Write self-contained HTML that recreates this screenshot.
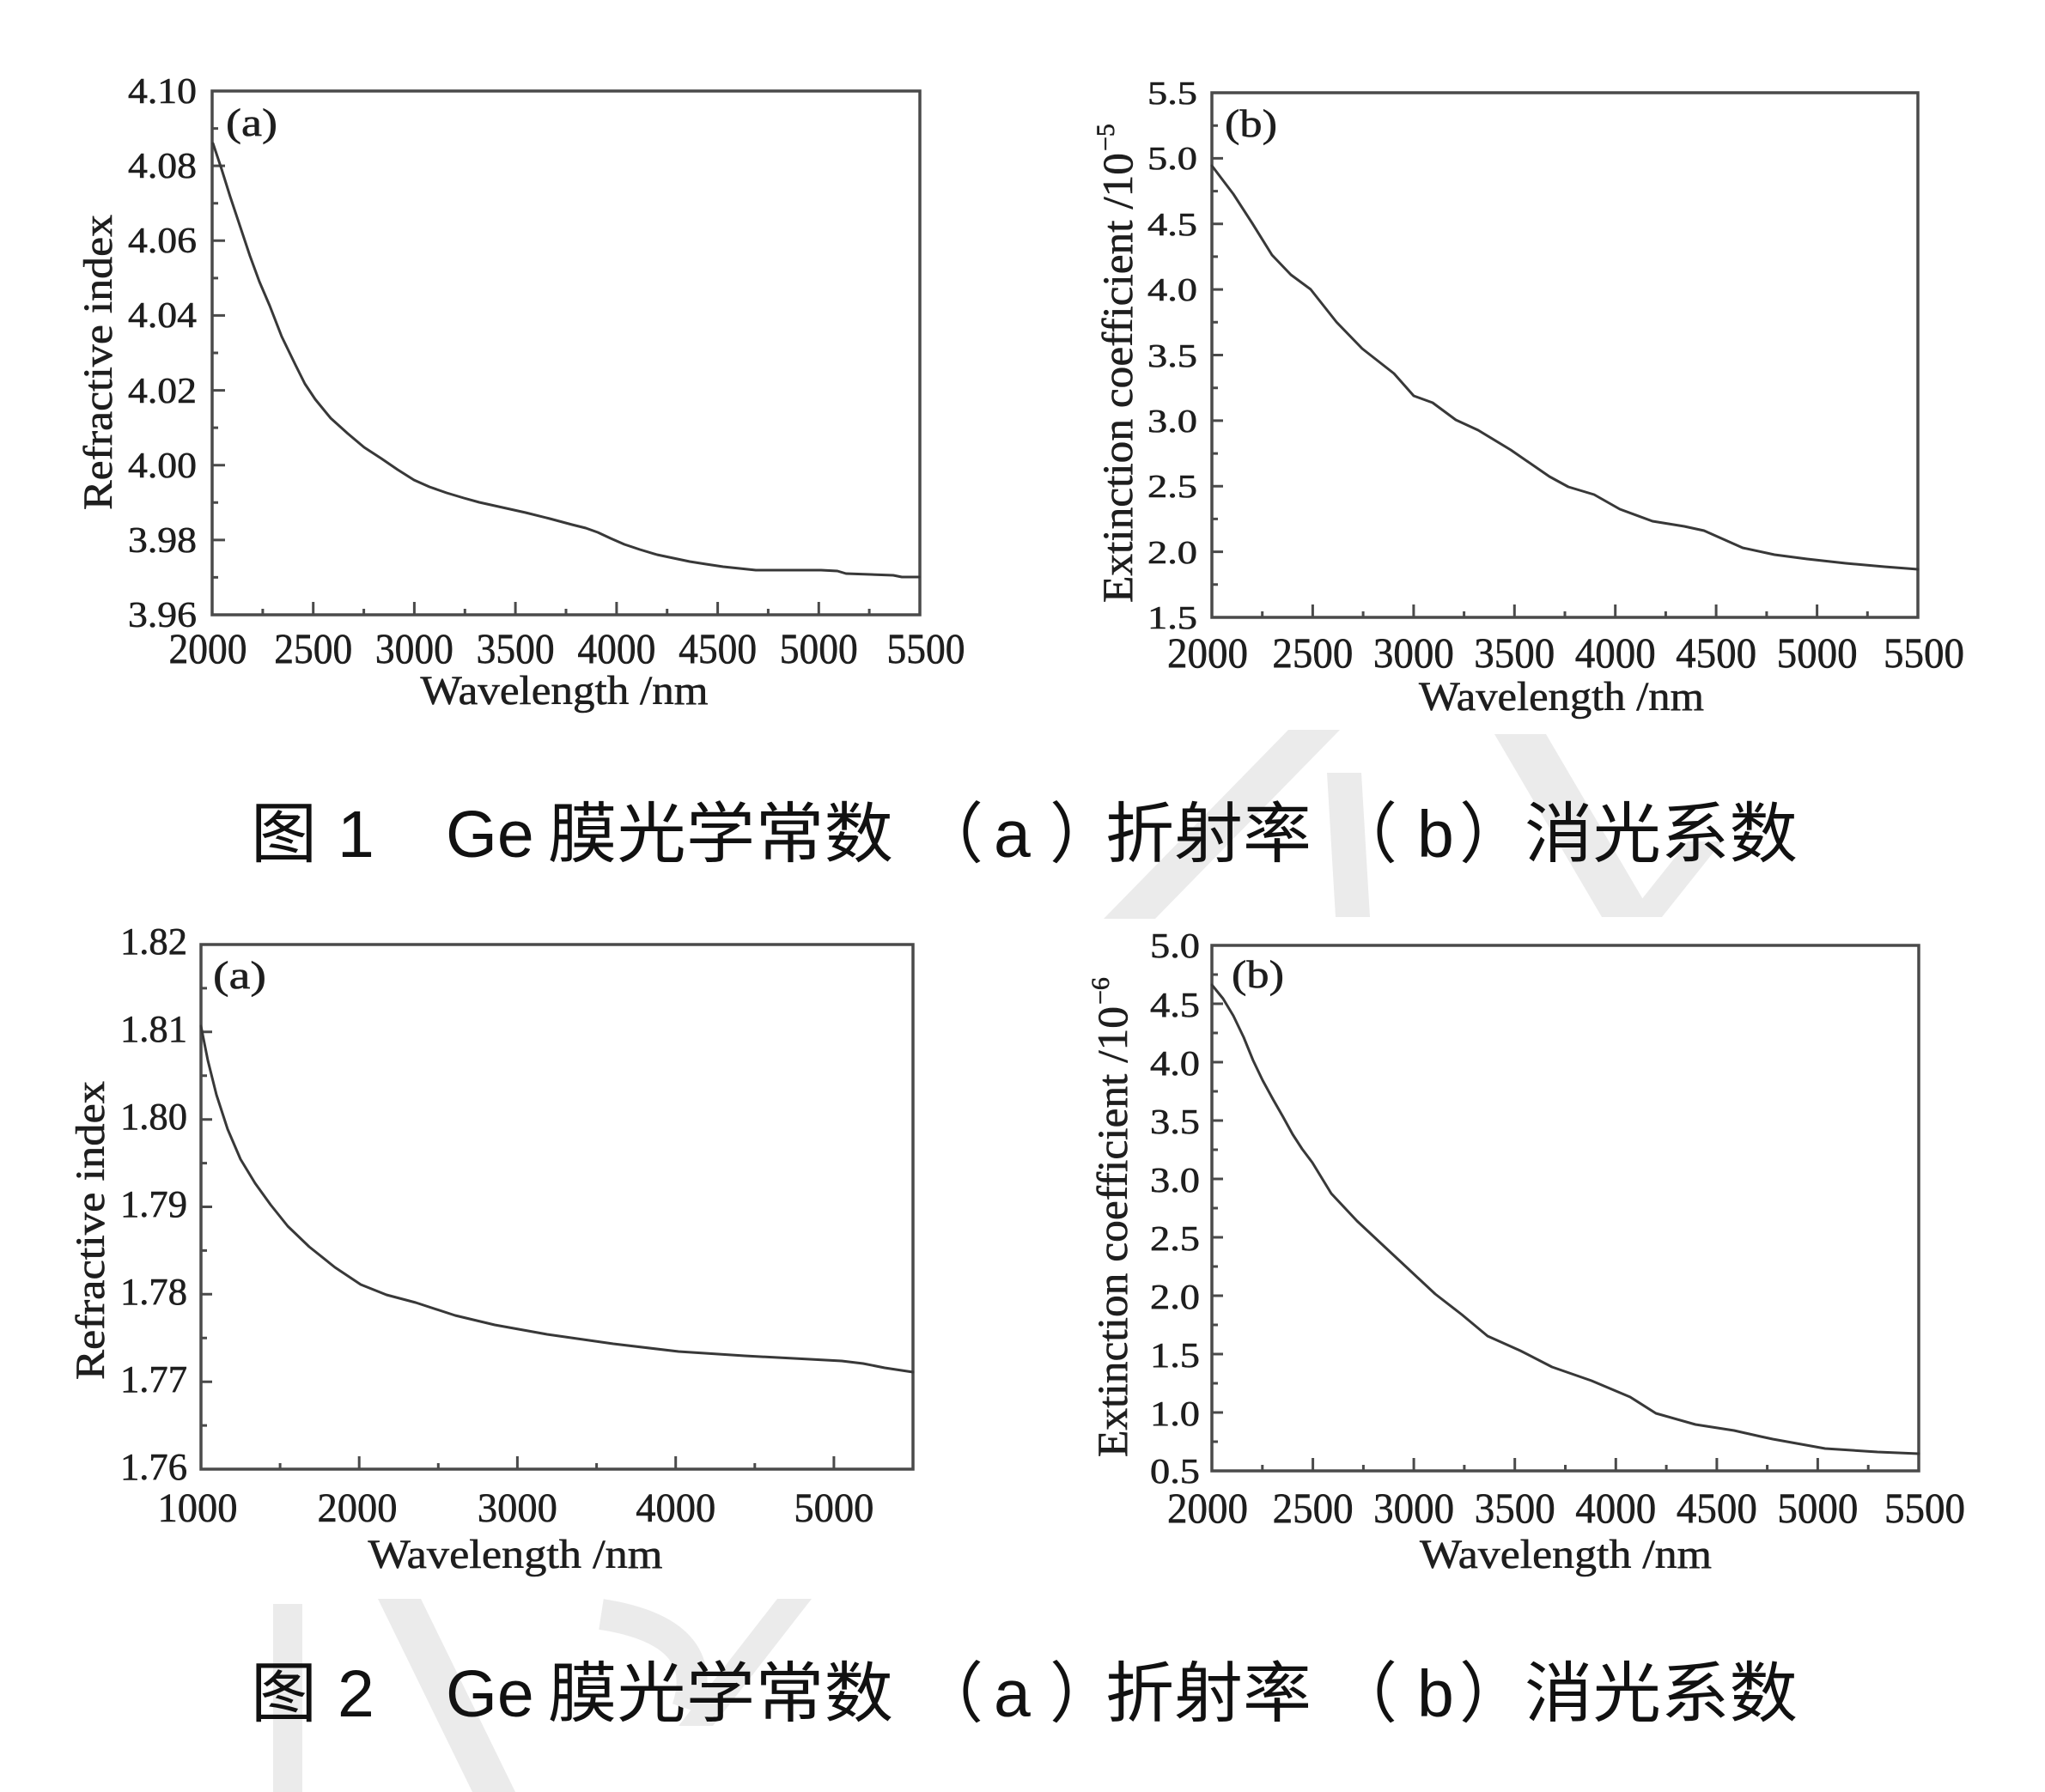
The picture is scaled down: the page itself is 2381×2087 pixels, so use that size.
<!DOCTYPE html>
<html><head><meta charset="utf-8"><style>
html,body{margin:0;padding:0;background:#fff;}
svg{display:block;}
.s{font-family:"Liberation Serif",serif;fill:#1e1e1e;stroke:#1e1e1e;stroke-width:0.6;}
.c{font-family:"Liberation Sans","Noto Sans CJK SC",sans-serif;fill:#111;}
.fr{fill:none;stroke:#4a4a4a;stroke-width:3.5;}
.tk{fill:none;stroke:#4a4a4a;stroke-width:3;}
.cv{fill:none;stroke:#383838;stroke-width:3;stroke-linejoin:round;stroke-linecap:round;}
.wm{fill:#ebebeb;}
</style></head><body>
<svg width="2381" height="2087" viewBox="0 0 2381 2087" xmlns="http://www.w3.org/2000/svg">
<rect width="2381" height="2087" fill="#fff"/>
<!-- watermark -->
<polygon class="wm" points="1500,850 1560,850 1345,1070 1285,1070"/>
<polygon class="wm" points="1545,900 1585,900 1595,1068 1555,1068"/>
<polygon class="wm" points="1740,855 1800,855 1925,1068 1865,1068"/>
<polygon class="wm" points="1965,980 2005,980 1935,1068 1895,1068"/>
<polygon class="wm" points="318,1868 352,1868 352,2087 318,2087"/>
<polygon class="wm" points="440,1862 490,1862 600,2087 550,2087"/>
<path d="M700,1880 Q830,1900 800,1990" fill="none" stroke="#ebebeb" stroke-width="36"/>
<polygon class="wm" points="905,1862 945,1862 830,2010 790,2010"/>

<!-- ===== Fig 1a ===== -->
<rect class="fr" x="247" y="106" width="824" height="610"/>
<path class="tk" d="M364.7,716v-15M482.4,716v-15M600.1,716v-15M717.9,716v-15M835.6,716v-15M953.3,716v-15
M305.9,716v-7M423.6,716v-7M541.3,716v-7M659,716v-7M776.7,716v-7M894.4,716v-7M1012.1,716v-7
M247,193.1h15M247,280.3h15M247,367.4h15M247,454.6h15M247,541.7h15M247,628.9h15
M247,149.6h7M247,236.7h7M247,323.9h7M247,411h7M247,498.1h7M247,585.3h7M247,672.4h7"/>
<polyline class="cv" points="248,167 258,197 268,229 280,265 291,298 302,328 314,356 328,392 344,425 355,447 367,465 385,487 405,505 424,521 444,534 463,547 482,559 500,567 520,574 540,580 558,585 585,591 612,597 640,604 666,611 682,615 696,620 711,627 727,634 745,640 765,646 784,650 803,654 822,657 842,660 861,662 880,664 956,664 975,665 985,668 1040,670 1050,672 1070,672"/>
<g class="s" font-size="42" text-anchor="end">
<text x="229" y="120" textLength="80" lengthAdjust="spacingAndGlyphs">4.10</text>
<text x="229" y="207" textLength="80" lengthAdjust="spacingAndGlyphs">4.08</text>
<text x="229" y="294" textLength="80" lengthAdjust="spacingAndGlyphs">4.06</text>
<text x="229" y="381" textLength="80" lengthAdjust="spacingAndGlyphs">4.04</text>
<text x="229" y="469" textLength="80" lengthAdjust="spacingAndGlyphs">4.02</text>
<text x="229" y="556" textLength="80" lengthAdjust="spacingAndGlyphs">4.00</text>
<text x="229" y="643" textLength="80" lengthAdjust="spacingAndGlyphs">3.98</text>
<text x="229" y="730" textLength="80" lengthAdjust="spacingAndGlyphs">3.96</text>
</g>
<g class="s" font-size="50" text-anchor="middle">
<text x="242" y="772" textLength="91" lengthAdjust="spacingAndGlyphs">2000</text>
<text x="364.7" y="772" textLength="91" lengthAdjust="spacingAndGlyphs">2500</text>
<text x="482.4" y="772" textLength="91" lengthAdjust="spacingAndGlyphs">3000</text>
<text x="600.1" y="772" textLength="91" lengthAdjust="spacingAndGlyphs">3500</text>
<text x="717.9" y="772" textLength="91" lengthAdjust="spacingAndGlyphs">4000</text>
<text x="835.6" y="772" textLength="91" lengthAdjust="spacingAndGlyphs">4500</text>
<text x="953.3" y="772" textLength="91" lengthAdjust="spacingAndGlyphs">5000</text>
<text x="1078" y="772" textLength="91" lengthAdjust="spacingAndGlyphs">5500</text>
</g>
<text class="s" x="657" y="820" font-size="48" text-anchor="middle" textLength="335" lengthAdjust="spacingAndGlyphs">Wavelength /nm</text>
<text class="s" font-size="48" text-anchor="middle" transform="translate(130,422) rotate(-90)" textLength="344" lengthAdjust="spacingAndGlyphs">Refractive index</text>
<text class="s" x="263" y="158" font-size="46" textLength="60" lengthAdjust="spacingAndGlyphs">(a)</text>

<!-- ===== Fig 1b ===== -->
<rect class="fr" x="1411" y="108" width="822" height="611"/>
<path class="tk" d="M1528.4,719v-15M1645.9,719v-15M1763.3,719v-15M1880.7,719v-15M1998.1,719v-15M2115.6,719v-15
M1469.7,719v-7M1587.1,719v-7M1704.6,719v-7M1822,719v-7M1939.4,719v-7M2056.9,719v-7M2174.3,719v-7
M1411,184.4h13M1411,260.8h13M1411,337.1h13M1411,413.5h13M1411,489.9h13M1411,566.3h13M1411,642.6h13
M1411,146.2h7M1411,222.6h7M1411,298.9h7M1411,375.3h7M1411,451.7h7M1411,528.1h7M1411,604.4h7M1411,680.8h7"/>
<polyline class="cv" points="1411,193 1436,226 1458,260 1481,297 1503,320 1526,337 1556,375 1586,406 1623,435 1646,461 1668,469 1695,489 1721,501 1759,524 1804,555 1826,567 1856,576 1886,593 1924,607 1961,613 1984,618 2029,638 2066,646 2104,651 2149,656 2194,660 2233,663"/>
<g class="s" font-size="38" text-anchor="end">
<text x="1394" y="121" textLength="58" lengthAdjust="spacingAndGlyphs">5.5</text>
<text x="1394" y="197" textLength="58" lengthAdjust="spacingAndGlyphs">5.0</text>
<text x="1394" y="274" textLength="58" lengthAdjust="spacingAndGlyphs">4.5</text>
<text x="1394" y="350" textLength="58" lengthAdjust="spacingAndGlyphs">4.0</text>
<text x="1394" y="427" textLength="58" lengthAdjust="spacingAndGlyphs">3.5</text>
<text x="1394" y="503" textLength="58" lengthAdjust="spacingAndGlyphs">3.0</text>
<text x="1394" y="579" textLength="58" lengthAdjust="spacingAndGlyphs">2.5</text>
<text x="1394" y="656" textLength="58" lengthAdjust="spacingAndGlyphs">2.0</text>
<text x="1394" y="732" textLength="58" lengthAdjust="spacingAndGlyphs">1.5</text>
</g>
<g class="s" font-size="50" text-anchor="middle">
<text x="1406" y="777" textLength="94" lengthAdjust="spacingAndGlyphs">2000</text>
<text x="1528.4" y="777" textLength="94" lengthAdjust="spacingAndGlyphs">2500</text>
<text x="1645.9" y="777" textLength="94" lengthAdjust="spacingAndGlyphs">3000</text>
<text x="1763.3" y="777" textLength="94" lengthAdjust="spacingAndGlyphs">3500</text>
<text x="1880.7" y="777" textLength="94" lengthAdjust="spacingAndGlyphs">4000</text>
<text x="1998.1" y="777" textLength="94" lengthAdjust="spacingAndGlyphs">4500</text>
<text x="2115.6" y="777" textLength="94" lengthAdjust="spacingAndGlyphs">5000</text>
<text x="2240" y="777" textLength="94" lengthAdjust="spacingAndGlyphs">5500</text>
</g>
<text class="s" x="1818" y="827" font-size="48" text-anchor="middle" textLength="332" lengthAdjust="spacingAndGlyphs">Wavelength /nm</text>
<text class="s" font-size="50" transform="translate(1318,702) rotate(-90)" textLength="524" lengthAdjust="spacingAndGlyphs">Extinction coefficient /10</text>
<text class="s" font-size="30" transform="translate(1297,176) rotate(-90)">−5</text>
<text class="s" x="1426" y="159" font-size="46" textLength="61" lengthAdjust="spacingAndGlyphs">(b)</text>

<!-- caption 1 -->
<g class="c" font-size="77">
<text x="292" y="998">图</text>
<text x="393" y="998">1</text>
<text x="519" y="998">Ge</text>
<text x="638" y="998" textLength="402" lengthAdjust="spacingAndGlyphs">膜光学常数</text>
<text x="1068" y="998">（</text>
<text x="1157" y="998">a</text>
<text x="1222" y="998">）</text>
<text x="1287" y="998" textLength="240" lengthAdjust="spacingAndGlyphs">折射率</text>
<text x="1550" y="998">（</text>
<text x="1650" y="998">b</text>
<text x="1699" y="998">）</text>
<text x="1775" y="998" textLength="318" lengthAdjust="spacingAndGlyphs">消光系数</text>
</g>

<!-- ===== Fig 2a ===== -->
<rect class="fr" x="234" y="1100" width="829" height="611"/>
<path class="tk" d="M418.2,1711v-15M602.4,1711v-15M786.7,1711v-15M970.9,1711v-15
M326.1,1711v-7M510.3,1711v-7M694.6,1711v-7M878.8,1711v-7
M234,1201.8h13M234,1303.7h13M234,1405.5h13M234,1507.3h13M234,1609.2h13
M234,1150.9h7M234,1252.8h7M234,1354.6h7M234,1456.4h7M234,1558.3h7M234,1660.1h7"/>
<polyline class="cv" points="234,1195 242,1235 252,1275 265,1315 280,1350 297,1378 315,1403 335,1428 360,1452 390,1476 420,1496 450,1508 484,1517 530,1532 576,1543 637,1554 714,1565 790,1574 867,1579 943,1583 980,1585 1005,1588 1030,1593 1063,1598"/>
<g class="s" font-size="44" text-anchor="end">
<text x="218" y="1111" textLength="78" lengthAdjust="spacingAndGlyphs">1.82</text>
<text x="218" y="1213" textLength="78" lengthAdjust="spacingAndGlyphs">1.81</text>
<text x="218" y="1315" textLength="78" lengthAdjust="spacingAndGlyphs">1.80</text>
<text x="218" y="1417" textLength="78" lengthAdjust="spacingAndGlyphs">1.79</text>
<text x="218" y="1519" textLength="78" lengthAdjust="spacingAndGlyphs">1.78</text>
<text x="218" y="1621" textLength="78" lengthAdjust="spacingAndGlyphs">1.77</text>
<text x="218" y="1723" textLength="78" lengthAdjust="spacingAndGlyphs">1.76</text>
</g>
<g class="s" font-size="48" text-anchor="middle">
<text x="230" y="1772" textLength="93" lengthAdjust="spacingAndGlyphs">1000</text>
<text x="416" y="1772" textLength="93" lengthAdjust="spacingAndGlyphs">2000</text>
<text x="602.4" y="1772" textLength="93" lengthAdjust="spacingAndGlyphs">3000</text>
<text x="786.7" y="1772" textLength="93" lengthAdjust="spacingAndGlyphs">4000</text>
<text x="970.9" y="1772" textLength="93" lengthAdjust="spacingAndGlyphs">5000</text>
</g>
<text class="s" x="600" y="1826" font-size="48" text-anchor="middle" textLength="343" lengthAdjust="spacingAndGlyphs">Wavelength /nm</text>
<text class="s" font-size="48" text-anchor="middle" transform="translate(121,1433) rotate(-90)" textLength="348" lengthAdjust="spacingAndGlyphs">Refractive index</text>
<text class="s" x="248" y="1151" font-size="46" textLength="62" lengthAdjust="spacingAndGlyphs">(a)</text>

<!-- ===== Fig 2b ===== -->
<rect class="fr" x="1411" y="1101" width="823" height="612"/>
<path class="tk" d="M1528.6,1713v-15M1646.1,1713v-15M1763.7,1713v-15M1881.3,1713v-15M1998.9,1713v-15M2116.4,1713v-15
M1469.8,1713v-7M1587.4,1713v-7M1704.9,1713v-7M1822.5,1713v-7M1940.1,1713v-7M2057.6,1713v-7M2175.2,1713v-7
M1411,1169h13M1411,1237h13M1411,1305h13M1411,1373h13M1411,1441h13M1411,1509h13M1411,1577h13M1411,1645h13
M1411,1135h7M1411,1203h7M1411,1271h7M1411,1339h7M1411,1407h7M1411,1475h7M1411,1543h7M1411,1611h7M1411,1679h7"/>
<polyline class="cv" points="1411,1147 1424,1163 1436,1183 1448,1208 1459,1235 1470,1258 1482,1280 1494,1301 1505,1321 1516,1338 1528,1354 1550,1390 1580,1422 1611,1451 1641,1479 1671,1507 1702,1531 1732,1556 1770,1573 1807,1592 1853,1608 1898,1627 1928,1646 1974,1659 2019,1666 2050,1673 2064,1676 2125,1687 2186,1691 2234,1693"/>
<g class="s" font-size="41" text-anchor="end">
<text x="1397" y="1115" textLength="58" lengthAdjust="spacingAndGlyphs">5.0</text>
<text x="1397" y="1184" textLength="58" lengthAdjust="spacingAndGlyphs">4.5</text>
<text x="1397" y="1252" textLength="58" lengthAdjust="spacingAndGlyphs">4.0</text>
<text x="1397" y="1320" textLength="58" lengthAdjust="spacingAndGlyphs">3.5</text>
<text x="1397" y="1388" textLength="58" lengthAdjust="spacingAndGlyphs">3.0</text>
<text x="1397" y="1456" textLength="58" lengthAdjust="spacingAndGlyphs">2.5</text>
<text x="1397" y="1524" textLength="58" lengthAdjust="spacingAndGlyphs">2.0</text>
<text x="1397" y="1592" textLength="58" lengthAdjust="spacingAndGlyphs">1.5</text>
<text x="1397" y="1660" textLength="58" lengthAdjust="spacingAndGlyphs">1.0</text>
<text x="1397" y="1727" textLength="58" lengthAdjust="spacingAndGlyphs">0.5</text>
</g>
<g class="s" font-size="50" text-anchor="middle">
<text x="1406" y="1773" textLength="94" lengthAdjust="spacingAndGlyphs">2000</text>
<text x="1528.6" y="1773" textLength="94" lengthAdjust="spacingAndGlyphs">2500</text>
<text x="1646.1" y="1773" textLength="94" lengthAdjust="spacingAndGlyphs">3000</text>
<text x="1763.7" y="1773" textLength="94" lengthAdjust="spacingAndGlyphs">3500</text>
<text x="1881.3" y="1773" textLength="94" lengthAdjust="spacingAndGlyphs">4000</text>
<text x="1998.9" y="1773" textLength="94" lengthAdjust="spacingAndGlyphs">4500</text>
<text x="2116.4" y="1773" textLength="94" lengthAdjust="spacingAndGlyphs">5000</text>
<text x="2241" y="1773" textLength="94" lengthAdjust="spacingAndGlyphs">5500</text>
</g>
<text class="s" x="1823" y="1826" font-size="48" text-anchor="middle" textLength="340" lengthAdjust="spacingAndGlyphs">Wavelength /nm</text>
<text class="s" font-size="50" transform="translate(1312,1697) rotate(-90)" textLength="525" lengthAdjust="spacingAndGlyphs">Extinction coefficient /10</text>
<text class="s" font-size="30" transform="translate(1291,1170) rotate(-90)">−6</text>
<text class="s" x="1434" y="1150" font-size="46" textLength="61" lengthAdjust="spacingAndGlyphs">(b)</text>

<!-- caption 2 -->
<g class="c" font-size="77">
<text x="292" y="1999">图</text>
<text x="393" y="1999">2</text>
<text x="519" y="1999">Ge</text>
<text x="638" y="1999" textLength="402" lengthAdjust="spacingAndGlyphs">膜光学常数</text>
<text x="1068" y="1999">（</text>
<text x="1157" y="1999">a</text>
<text x="1222" y="1999">）</text>
<text x="1287" y="1999" textLength="240" lengthAdjust="spacingAndGlyphs">折射率</text>
<text x="1550" y="1999">（</text>
<text x="1650" y="1999">b</text>
<text x="1699" y="1999">）</text>
<text x="1775" y="1999" textLength="318" lengthAdjust="spacingAndGlyphs">消光系数</text>
</g>
</svg>
</body></html>
